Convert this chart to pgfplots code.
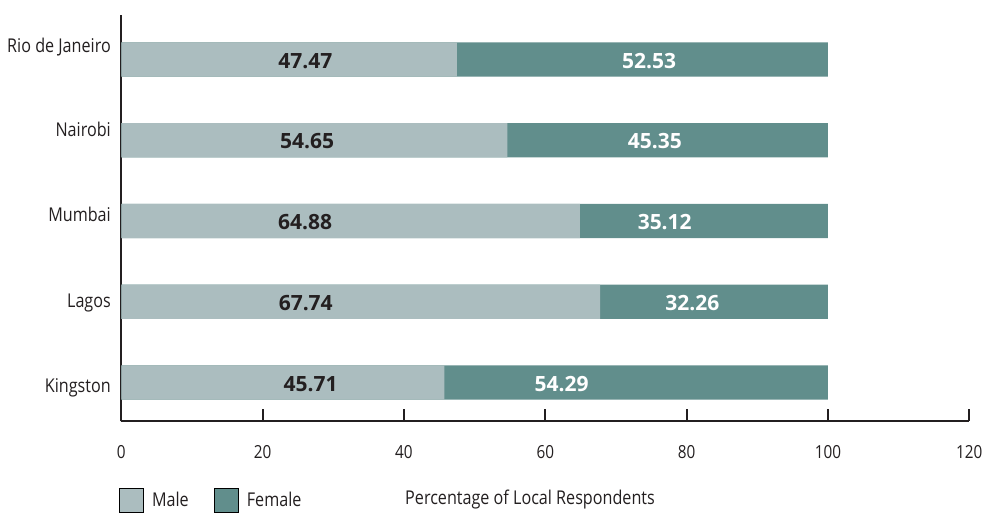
\documentclass[border=0pt]{standalone}
\usepackage{fontspec}
\setmainfont{Open Sans}[FakeStretch=0.85]
\newfontfamily\labelfont{Open Sans}
\usepackage{pgfplots}
\usepackage{pgfplotstable}
\pgfplotsset{compat=1.18}

\definecolor{male}{HTML}{ABBDBF}
\definecolor{female}{HTML}{618E8C}
\definecolor{ink}{HTML}{231F20}

% y: row position (Kingston at 0), mlx/flx: where the value labels sit
\pgfplotstableread{
y male  female mlx   flx
4 47.47 52.53  26.04 74.7
3 54.65 45.35  26.3  75.5
2 64.88 35.12  26.0  76.9
1 67.74 32.26  26.1  80.8
0 45.71 54.29  26.8  62.3
}\shares

\begin{document}
\begin{tikzpicture}
\path[use as bounding box] (-121.3pt,-90.7pt) rectangle (863.7pt,421.3pt);
\begin{axis}[
    at={(0pt,0pt)}, anchor=south west,
    scale only axis,
    width=848pt, height=406.3pt,
    xmin=0, xmax=120,
    ymin=-0.48, ymax=4.551,
    clip=false,
    axis x line=bottom, axis y line=left,
    axis line style={-, line width=2pt, draw=ink},
    xtick={0,20,...,120},
    tick align=inside,
    major tick length=12pt,
    xtick style={line width=2pt, draw=ink},
    ytick={-0.037,1.012,2.08,3.132,4.173},
    yticklabels={Kingston,Lagos,Mumbai,Nairobi,Rio de Janeiro},
    ytick style={draw=none},
    /pgf/number format/assume math mode=true,
    xticklabel style={anchor=base, inner sep=0pt, yshift=-37pt,
        font=\fontsize{18}{21}\selectfont, text=ink},
    yticklabel style={anchor=base east, inner sep=0pt, xshift=-10.3pt, yshift=-7pt,
        font=\fontsize{19}{22}\selectfont, text=ink},
    xlabel={Percentage of Local Respondents},
    xlabel style={at={(axis description cs:0.482,0)}, anchor=base, inner sep=0pt,
        yshift=-82.7pt, font=\fontsize{19}{22}\selectfont, text=ink},
    bar width=34.4pt,
    legend image code/.code={\fill[#1] (0pt,-11.85pt) rectangle (23.7pt,11.85pt);},
    legend columns=2,
    legend cell align=left,
    legend style={draw=none, fill=none, inner sep=0pt, outer sep=0pt,
        at={(axis description cs:0,0)}, anchor=north west,
        xshift=-2.3pt, yshift=-66.7pt,
        font=\fontsize{19}{22}\selectfont,
        nodes={inner sep=0pt, text=ink},
        /tikz/every odd column/.append style={column sep=9pt},
        /tikz/every even column/.append style={column sep=25pt}},
]
\addplot[xbar, bar shift=0pt, fill=female, draw=none, forget plot]
    table[x expr=\thisrow{male}+\thisrow{female}, y=y] {\shares};
\addplot[xbar, bar shift=0pt, fill=male, draw=none, forget plot]
    table[x=male, y=y] {\shares};

\addplot[draw=none, mark=none, forget plot, nodes near coords,
    point meta=explicit symbolic,
    every node near coord/.append style={anchor=base, yshift=-8.5pt, inner sep=0pt,
        font=\labelfont\bfseries\fontsize{21}{24}\selectfont, text=ink}]
    table[x=mlx, y=y, meta=male] {\shares};
\addplot[draw=none, mark=none, forget plot, nodes near coords,
    point meta=explicit symbolic,
    every node near coord/.append style={anchor=base, yshift=-8.5pt, inner sep=0pt,
        font=\labelfont\bfseries\fontsize{21}{24}\selectfont, text=white}]
    table[x=flx, y=y, meta=female] {\shares};

\addlegendimage{fill=male}
\addlegendentry{Male}
\addlegendimage{fill=female}
\addlegendentry{Female}
\end{axis}
\end{tikzpicture}
\end{document}
